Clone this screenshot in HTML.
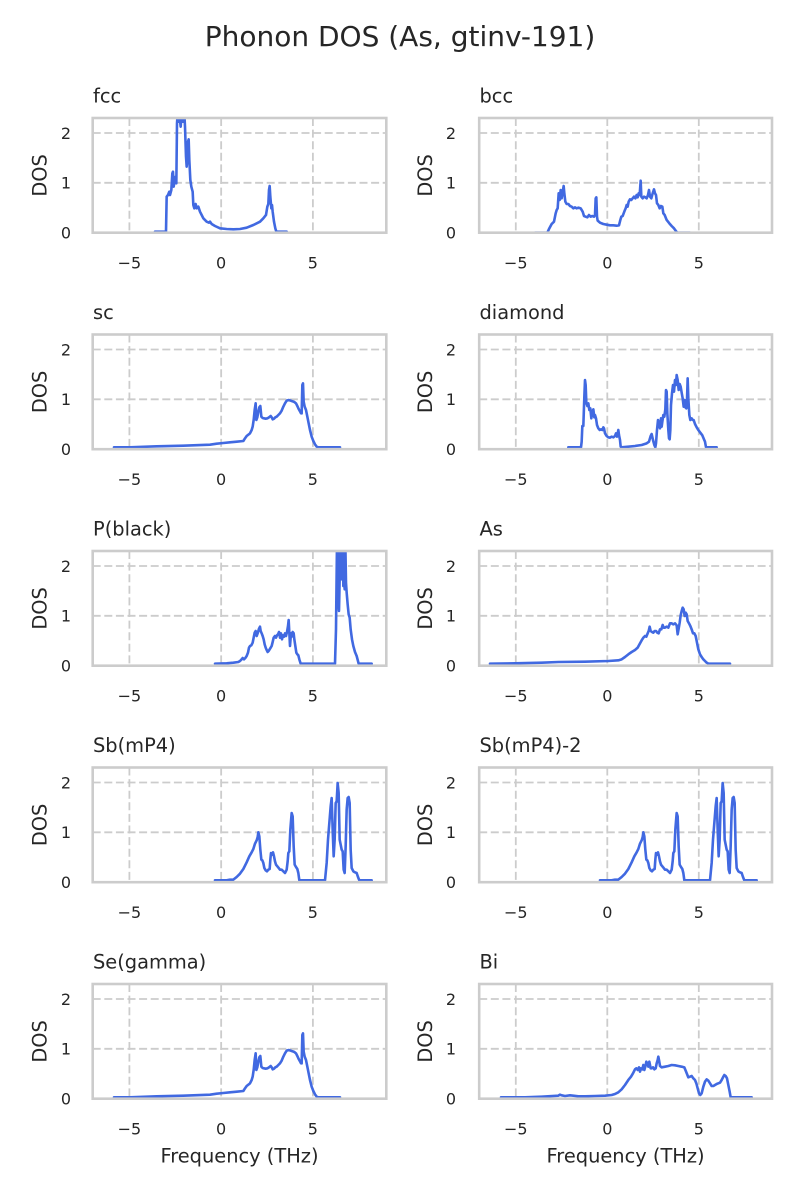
<!DOCTYPE html>
<html>
<head>
<meta charset="utf-8">
<style>
html,body{margin:0;padding:0;background:#fff;}
svg{display:block;}
text{font-family:"DejaVu Sans","Liberation Sans",sans-serif;fill:#262626;}
.tk{font-size:16px;}
.lb{font-size:19.4px;}
.grid{stroke:#cccccc;stroke-width:1.8;stroke-dasharray:8 3.6;fill:none;}
.sp{stroke:#cccccc;stroke-width:2.6;fill:none;}
.cv{fill:none;stroke:#4169E1;stroke-width:7.8;stroke-linejoin:round;stroke-linecap:round;}
</style>
</head>
<body>
<svg width="800" height="1200" viewBox="0 0 800 1200" xmlns="http://www.w3.org/2000/svg">
<rect x="0" y="0" width="800" height="1200" fill="#fff"/>
<defs>
<clipPath id="cL1"><rect x="92.7" y="118.0" width="293.6" height="114.7"/></clipPath>
<clipPath id="cR1"><rect x="479.2" y="118.0" width="292.8" height="114.7"/></clipPath>
<clipPath id="cL2"><rect x="92.7" y="334.5" width="293.6" height="114.7"/></clipPath>
<clipPath id="cR2"><rect x="479.2" y="334.5" width="292.8" height="114.7"/></clipPath>
<clipPath id="cL3"><rect x="92.7" y="551.0" width="293.6" height="114.7"/></clipPath>
<clipPath id="cR3"><rect x="479.2" y="551.0" width="292.8" height="114.7"/></clipPath>
<clipPath id="cL4"><rect x="92.7" y="767.5" width="293.6" height="114.7"/></clipPath>
<clipPath id="cR4"><rect x="479.2" y="767.5" width="292.8" height="114.7"/></clipPath>
<clipPath id="cL5"><rect x="92.7" y="984.0" width="293.6" height="114.7"/></clipPath>
<clipPath id="cR5"><rect x="479.2" y="984.0" width="292.8" height="114.7"/></clipPath>
</defs>

<text x="400" y="46" text-anchor="middle" style="font-size:28px">Phonon DOS (As, gtinv-191)</text>

<!-- ===== grids (left col x: 129.4, 221.15, 312.9 ; right col x: 515.8, 607.3, 698.8) ===== -->
<g class="grid">
  <!-- row1 -->
  <line x1="129.4" y1="118" x2="129.4" y2="232.7"/><line x1="221.15" y1="118" x2="221.15" y2="232.7"/><line x1="312.9" y1="118" x2="312.9" y2="232.7"/>
  <line x1="92.7" y1="182.8" x2="386.3" y2="182.8"/><line x1="92.7" y1="133.0" x2="386.3" y2="133.0"/>
  <line x1="515.8" y1="118" x2="515.8" y2="232.7"/><line x1="607.3" y1="118" x2="607.3" y2="232.7"/><line x1="698.8" y1="118" x2="698.8" y2="232.7"/>
  <line x1="479.2" y1="182.8" x2="772" y2="182.8"/><line x1="479.2" y1="133.0" x2="772" y2="133.0"/>
  <!-- row2 -->
  <line x1="129.4" y1="334.5" x2="129.4" y2="449.2"/><line x1="221.15" y1="334.5" x2="221.15" y2="449.2"/><line x1="312.9" y1="334.5" x2="312.9" y2="449.2"/>
  <line x1="92.7" y1="399.3" x2="386.3" y2="399.3"/><line x1="92.7" y1="349.5" x2="386.3" y2="349.5"/>
  <line x1="515.8" y1="334.5" x2="515.8" y2="449.2"/><line x1="607.3" y1="334.5" x2="607.3" y2="449.2"/><line x1="698.8" y1="334.5" x2="698.8" y2="449.2"/>
  <line x1="479.2" y1="399.3" x2="772" y2="399.3"/><line x1="479.2" y1="349.5" x2="772" y2="349.5"/>
  <!-- row3 -->
  <line x1="129.4" y1="551" x2="129.4" y2="665.7"/><line x1="221.15" y1="551" x2="221.15" y2="665.7"/><line x1="312.9" y1="551" x2="312.9" y2="665.7"/>
  <line x1="92.7" y1="615.8" x2="386.3" y2="615.8"/><line x1="92.7" y1="566.0" x2="386.3" y2="566.0"/>
  <line x1="515.8" y1="551" x2="515.8" y2="665.7"/><line x1="607.3" y1="551" x2="607.3" y2="665.7"/><line x1="698.8" y1="551" x2="698.8" y2="665.7"/>
  <line x1="479.2" y1="615.8" x2="772" y2="615.8"/><line x1="479.2" y1="566.0" x2="772" y2="566.0"/>
  <!-- row4 -->
  <line x1="129.4" y1="767.5" x2="129.4" y2="882.2"/><line x1="221.15" y1="767.5" x2="221.15" y2="882.2"/><line x1="312.9" y1="767.5" x2="312.9" y2="882.2"/>
  <line x1="92.7" y1="832.3" x2="386.3" y2="832.3"/><line x1="92.7" y1="782.5" x2="386.3" y2="782.5"/>
  <line x1="515.8" y1="767.5" x2="515.8" y2="882.2"/><line x1="607.3" y1="767.5" x2="607.3" y2="882.2"/><line x1="698.8" y1="767.5" x2="698.8" y2="882.2"/>
  <line x1="479.2" y1="832.3" x2="772" y2="832.3"/><line x1="479.2" y1="782.5" x2="772" y2="782.5"/>
  <!-- row5 -->
  <line x1="129.4" y1="984" x2="129.4" y2="1098.7"/><line x1="221.15" y1="984" x2="221.15" y2="1098.7"/><line x1="312.9" y1="984" x2="312.9" y2="1098.7"/>
  <line x1="92.7" y1="1048.8" x2="386.3" y2="1048.8"/><line x1="92.7" y1="999.0" x2="386.3" y2="999.0"/>
  <line x1="515.8" y1="984" x2="515.8" y2="1098.7"/><line x1="607.3" y1="984" x2="607.3" y2="1098.7"/><line x1="698.8" y1="984" x2="698.8" y2="1098.7"/>
  <line x1="479.2" y1="1048.8" x2="772" y2="1048.8"/><line x1="479.2" y1="999.0" x2="772" y2="999.0"/>
</g>

<!-- ===== curves ===== -->
<!-- fcc -->
<g clip-path="url(#cL1)"><g transform="translate(30,80) scale(0.33333)">
<path class="cv" d="M375,455 L408,455 L410,350 L414,345 L418,335 L420,345 L424,330 L427,280 L429,275 L431,320 L434,300 L437,290 L439,310 L441,130 L443,100 L446,125 L448,100 L452,140 L455,100 L459,125 L463,100 L465,140 L468,230 L470,260 L472,240 L474,185 L476,178 L478,240 L481,300 L484,320 L488,335 L490,375 L493,385 L497,372 L500,385 L505,380 L510,395 L515,405 L520,415 L530,425 L537,428 L540,425 L545,432 L555,438 L570,445 L590,447 L610,448 L630,447 L650,443 L670,435 L690,425 L700,415 L708,405 L712,380 L715,372 L717,330 L719,318 L721,350 L724,385 L726,375 L728,395 L732,425 L736,445 L739,455 L770,455"/>
</g></g>
<!-- bcc -->
<g clip-path="url(#cR1)"><g transform="translate(410,80) scale(0.33333)">
<path class="cv" d="M375,458 L412,458 L418,445 L425,432 L432,425 L437,400 L440,390 L443,385 L446,340 L449,360 L452,330 L455,355 L458,335 L461,318 L463,340 L466,365 L470,372 L475,372 L480,378 L485,380 L490,385 L495,382 L500,385 L505,383 L512,385 L518,395 L522,408 L527,410 L532,412 L537,405 L542,410 L547,408 L552,410 L555,405 L557,355 L559,352 L561,410 L563,422 L570,428 L580,432 L590,434 L600,436 L610,436 L620,437 L627,436 L631,420 L634,410 L638,408 L641,400 L644,392 L647,385 L650,375 L653,380 L656,365 L660,358 L664,360 L668,355 L672,350 L676,355 L680,345 L683,352 L686,340 L689,345 L692,302 L694,350 L698,355 L702,350 L706,352 L710,355 L714,345 L717,330 L720,350 L724,355 L728,340 L732,328 L735,340 L738,345 L741,370 L745,375 L749,385 L753,378 L757,380 L760,400 L764,405 L770,420 L778,430 L785,438 L792,445 L797,452 L802,458 L840,458"/>
</g></g>
<!-- sc -->
<g clip-path="url(#cL2)"><g transform="translate(90,330) scale(0.33333)">
<path class="cv" d="M72,352 L120,352 L200,349 L280,347 L360,344 L380,341 L400,339 L420,337 L440,335 L460,333 L465,325 L470,318 L480,310 L485,300 L488,290 L491,270 L494,240 L497,220 L499,270 L502,262 L505,245 L508,232 L511,228 L514,260 L518,264 L522,265 L527,266 L532,265 L537,262 L542,258 L545,262 L548,268 L552,266 L556,262 L560,260 L565,255 L570,250 L575,242 L580,230 L585,220 L590,212 L596,210 L602,212 L608,214 L613,216 L618,220 L622,228 L626,237 L630,244 L633,250 L635,250 L637,165 L639,160 L641,215 L644,230 L648,240 L652,260 L656,280 L660,300 L665,320 L670,333 L675,343 L680,350 L685,352 L750,352"/>
</g></g>
<!-- diamond -->
<g clip-path="url(#cR2)"><g transform="translate(475,330) scale(0.33333)">
<path class="cv" d="M280,352 L318,352 L320,335 L322,288 L325,288 L328,200 L330,150 L332,165 L334,218 L337,228 L340,220 L343,240 L346,235 L349,265 L352,245 L355,238 L358,262 L360,255 L363,265 L366,285 L370,295 L374,300 L378,298 L382,300 L385,292 L387,295 L390,310 L395,318 L400,322 L405,323 L410,320 L415,322 L420,318 L423,310 L426,320 L430,300 L432,315 L435,330 L437,350 L440,352 L460,350 L480,348 L500,345 L515,340 L522,335 L527,318 L530,312 L534,330 L538,345 L541,352 L543,340 L546,300 L549,270 L552,282 L555,295 L558,265 L560,290 L562,275 L565,255 L568,260 L571,238 L573,180 L575,185 L577,250 L580,300 L582,325 L584,328 L586,300 L588,225 L591,190 L594,165 L597,185 L600,150 L603,165 L605,135 L608,150 L611,180 L614,162 L617,170 L620,188 L623,205 L626,230 L629,210 L631,232 L634,235 L636,210 L638,145 L640,205 L643,255 L646,270 L650,265 L653,270 L656,270 L660,282 L665,292 L670,300 L676,308 L682,316 L687,328 L690,335 L693,352 L725,352"/>
</g></g>
<!-- P(black) -->
<g clip-path="url(#cL3)"><g transform="translate(90,546) scale(0.33333)">
<path class="cv" d="M375,353 L410,352 L430,350 L445,348 L450,345 L455,340 L458,336 L462,340 L466,336 L470,330 L474,320 L477,305 L480,300 L484,298 L488,290 L491,275 L494,260 L497,255 L500,270 L503,262 L507,248 L510,242 L512,255 L515,262 L518,270 L521,280 L524,295 L527,305 L530,312 L533,318 L536,315 L539,310 L542,305 L545,300 L548,288 L551,275 L555,270 L558,275 L561,268 L564,265 L567,258 L570,275 L573,262 L576,280 L579,268 L582,272 L585,262 L588,270 L591,258 L594,240 L596,222 L598,260 L600,300 L603,262 L605,272 L608,258 L611,262 L613,280 L616,300 L619,320 L622,325 L625,328 L628,340 L632,353 L735,353 L738,250 L741,-10 L743,-10 L745,160 L747,195 L749,100 L751,-10 L754,-10 L756,100 L758,-10 L760,120 L762,90 L764,130 L766,-10 L768,110 L770,140 L773,175 L776,205 L779,215 L782,250 L786,280 L790,300 L795,318 L800,330 L806,353 L845,353"/>
</g></g>
<!-- As -->
<g clip-path="url(#cR3)"><g transform="translate(475,546) scale(0.33333)">
<path class="cv" d="M45,353 L120,352 L200,350 L250,348 L330,347 L400,345 L430,343 L440,340 L450,333 L460,325 L470,318 L480,312 L488,305 L495,292 L500,283 L505,275 L510,270 L514,272 L518,262 L521,255 L524,242 L527,255 L531,258 L535,260 L539,255 L543,255 L547,260 L551,262 L555,250 L559,250 L563,237 L566,245 L570,245 L575,242 L580,245 L585,232 L590,232 L595,235 L600,232 L605,238 L608,265 L611,248 L614,230 L617,208 L620,195 L623,185 L626,190 L629,210 L632,200 L635,205 L638,225 L642,232 L646,240 L650,250 L654,262 L658,262 L662,270 L666,290 L670,310 L675,325 L680,333 L685,340 L690,345 L695,350 L700,353 L765,353"/>
</g></g>
<!-- Sb(mP4) -->
<g clip-path="url(#cL4)"><g transform="translate(90,763) scale(0.33333)">
<path class="cv" d="M375,352 L410,352 L420,350 L430,350 L440,342 L450,332 L460,318 L470,298 L478,280 L485,268 L490,258 L495,242 L500,232 L503,222 L505,208 L508,220 L511,260 L514,290 L517,292 L520,300 L523,315 L527,322 L531,325 L535,320 L539,318 L541,290 L543,270 L546,275 L549,268 L552,280 L555,295 L558,305 L562,310 L566,315 L570,320 L575,320 L580,325 L585,330 L590,320 L593,295 L595,270 L598,265 L601,200 L605,150 L608,160 L611,250 L614,305 L618,312 L622,318 L625,330 L628,352 L705,352 L710,300 L714,230 L718,180 L722,130 L725,105 L728,200 L731,280 L734,230 L737,120 L740,115 L743,60 L746,90 L749,230 L752,245 L755,260 L758,265 L761,320 L764,330 L767,250 L770,140 L773,105 L776,102 L779,120 L782,260 L785,315 L790,325 L795,328 L800,330 L804,342 L808,352 L845,352"/>
</g></g>
<!-- Sb(mP4)-2 -->
<g clip-path="url(#cR4)"><g transform="translate(475,763) scale(0.33333)">
<path class="cv" d="M375,352 L410,352 L420,350 L430,350 L440,342 L450,332 L460,318 L470,298 L478,280 L485,268 L490,258 L495,242 L500,232 L503,222 L505,208 L508,220 L511,260 L514,290 L517,292 L520,300 L523,315 L527,322 L531,325 L535,320 L539,318 L541,290 L543,270 L546,275 L549,268 L552,280 L555,295 L558,305 L562,310 L566,315 L570,320 L575,320 L580,325 L585,330 L590,320 L593,295 L595,270 L598,265 L601,200 L605,150 L608,160 L611,250 L614,305 L618,312 L622,318 L625,330 L628,352 L705,352 L710,300 L714,230 L718,180 L722,130 L725,105 L728,200 L731,280 L734,230 L737,120 L740,115 L743,60 L746,90 L749,230 L752,245 L755,260 L758,265 L761,320 L764,330 L767,250 L770,140 L773,105 L776,102 L779,120 L782,260 L785,315 L790,325 L795,328 L800,330 L804,342 L808,352 L845,352"/>
</g></g>
<!-- Se(gamma) -->
<g clip-path="url(#cL5)"><g transform="translate(90,980) scale(0.33333)">
<path class="cv" d="M72,352 L120,352 L200,349 L280,347 L360,344 L380,341 L400,339 L420,337 L440,335 L460,333 L465,325 L470,318 L480,310 L485,300 L488,290 L491,270 L494,240 L497,220 L499,270 L502,262 L505,245 L508,232 L511,228 L514,260 L518,264 L522,265 L527,266 L532,265 L537,262 L542,258 L545,262 L548,268 L552,266 L556,262 L560,260 L565,255 L570,250 L575,242 L580,230 L585,220 L590,212 L596,210 L602,212 L608,214 L613,216 L618,220 L622,228 L626,237 L630,244 L633,250 L635,250 L637,165 L639,160 L641,215 L644,230 L648,240 L652,260 L656,280 L660,300 L665,320 L670,333 L675,343 L680,350 L685,352 L750,352"/>
</g></g>
<!-- Bi -->
<g clip-path="url(#cR5)"><g transform="translate(475,980) scale(0.33333)">
<path class="cv" d="M78,352 L150,352 L200,350 L250,347 L255,344 L260,346 L270,348 L285,346 L295,347 L310,349 L330,349 L360,348 L390,347 L410,345 L420,342 L430,337 L440,328 L450,315 L460,300 L468,290 L474,280 L480,268 L484,265 L488,270 L492,262 L495,275 L498,265 L502,268 L505,255 L508,270 L511,260 L514,245 L517,250 L520,260 L523,245 L527,265 L530,265 L534,262 L538,268 L542,265 L545,250 L548,240 L550,230 L552,240 L555,258 L560,262 L570,260 L580,258 L590,255 L600,256 L610,258 L620,260 L628,262 L632,272 L636,282 L640,292 L645,290 L650,288 L655,295 L660,300 L664,310 L668,325 L672,340 L676,345 L680,340 L685,320 L690,305 L695,298 L700,302 L705,310 L710,318 L715,318 L720,315 L725,312 L730,310 L735,308 L740,300 L745,290 L748,285 L752,288 L756,295 L760,315 L764,335 L767,352 L830,352"/>
</g></g>

<!-- ===== spines ===== -->
<g class="sp">
<rect x="92.7" y="118.0" width="293.6" height="114.7"/><rect x="479.2" y="118.0" width="292.8" height="114.7"/>
<rect x="92.7" y="334.5" width="293.6" height="114.7"/><rect x="479.2" y="334.5" width="292.8" height="114.7"/>
<rect x="92.7" y="551.0" width="293.6" height="114.7"/><rect x="479.2" y="551.0" width="292.8" height="114.7"/>
<rect x="92.7" y="767.5" width="293.6" height="114.7"/><rect x="479.2" y="767.5" width="292.8" height="114.7"/>
<rect x="92.7" y="984.0" width="293.6" height="114.7"/><rect x="479.2" y="984.0" width="292.8" height="114.7"/>
</g>

<!-- ===== subplot titles ===== -->
<g class="lb">
<text x="93" y="102.5">fcc</text><text x="479.5" y="102.5">bcc</text>
<text x="93" y="319">sc</text><text x="479.5" y="319">diamond</text>
<text x="93" y="535.5">P(black)</text><text x="479.5" y="535.5">As</text>
<text x="93" y="752">Sb(mP4)</text><text x="479.5" y="752">Sb(mP4)-2</text>
<text x="93" y="968.5">Se(gamma)</text><text x="479.5" y="968.5">Bi</text>
</g>

<!-- ===== y labels ===== -->
<g class="lb" text-anchor="middle">
<text transform="translate(46.7,175.4) rotate(-90)">DOS</text><text transform="translate(432,175.4) rotate(-90)">DOS</text>
<text transform="translate(46.7,391.9) rotate(-90)">DOS</text><text transform="translate(432,391.9) rotate(-90)">DOS</text>
<text transform="translate(46.7,608.4) rotate(-90)">DOS</text><text transform="translate(432,608.4) rotate(-90)">DOS</text>
<text transform="translate(46.7,824.9) rotate(-90)">DOS</text><text transform="translate(432,824.9) rotate(-90)">DOS</text>
<text transform="translate(46.7,1041.4) rotate(-90)">DOS</text><text transform="translate(432,1041.4) rotate(-90)">DOS</text>
</g>

<!-- ===== y tick labels ===== -->
<g class="tk" text-anchor="end">
<text x="71" y="238.5">0</text><text x="71" y="188.6">1</text><text x="71" y="138.8">2</text>
<text x="456" y="238.5">0</text><text x="456" y="188.6">1</text><text x="456" y="138.8">2</text>
<text x="71" y="455">0</text><text x="71" y="405.1">1</text><text x="71" y="355.3">2</text>
<text x="456" y="455">0</text><text x="456" y="405.1">1</text><text x="456" y="355.3">2</text>
<text x="71" y="671.5">0</text><text x="71" y="621.6">1</text><text x="71" y="571.8">2</text>
<text x="456" y="671.5">0</text><text x="456" y="621.6">1</text><text x="456" y="571.8">2</text>
<text x="71" y="888">0</text><text x="71" y="838.1">1</text><text x="71" y="788.3">2</text>
<text x="456" y="888">0</text><text x="456" y="838.1">1</text><text x="456" y="788.3">2</text>
<text x="71" y="1104.5">0</text><text x="71" y="1054.6">1</text><text x="71" y="1004.8">2</text>
<text x="456" y="1104.5">0</text><text x="456" y="1054.6">1</text><text x="456" y="1004.8">2</text>
</g>

<!-- ===== x tick labels ===== -->
<g class="tk" text-anchor="middle">
<text x="129.4" y="268.3">−5</text><text x="221.15" y="268.3">0</text><text x="312.9" y="268.3">5</text>
<text x="515.8" y="268.3">−5</text><text x="607.3" y="268.3">0</text><text x="698.8" y="268.3">5</text>
<text x="129.4" y="484.8">−5</text><text x="221.15" y="484.8">0</text><text x="312.9" y="484.8">5</text>
<text x="515.8" y="484.8">−5</text><text x="607.3" y="484.8">0</text><text x="698.8" y="484.8">5</text>
<text x="129.4" y="701.3">−5</text><text x="221.15" y="701.3">0</text><text x="312.9" y="701.3">5</text>
<text x="515.8" y="701.3">−5</text><text x="607.3" y="701.3">0</text><text x="698.8" y="701.3">5</text>
<text x="129.4" y="917.8">−5</text><text x="221.15" y="917.8">0</text><text x="312.9" y="917.8">5</text>
<text x="515.8" y="917.8">−5</text><text x="607.3" y="917.8">0</text><text x="698.8" y="917.8">5</text>
<text x="129.4" y="1134.3">−5</text><text x="221.15" y="1134.3">0</text><text x="312.9" y="1134.3">5</text>
<text x="515.8" y="1134.3">−5</text><text x="607.3" y="1134.3">0</text><text x="698.8" y="1134.3">5</text>
</g>

<!-- ===== x labels ===== -->
<g class="lb" text-anchor="middle">
<text x="239.5" y="1162.5">Frequency (THz)</text>
<text x="625.6" y="1162.5">Frequency (THz)</text>
</g>
</svg>
</body>
</html>
